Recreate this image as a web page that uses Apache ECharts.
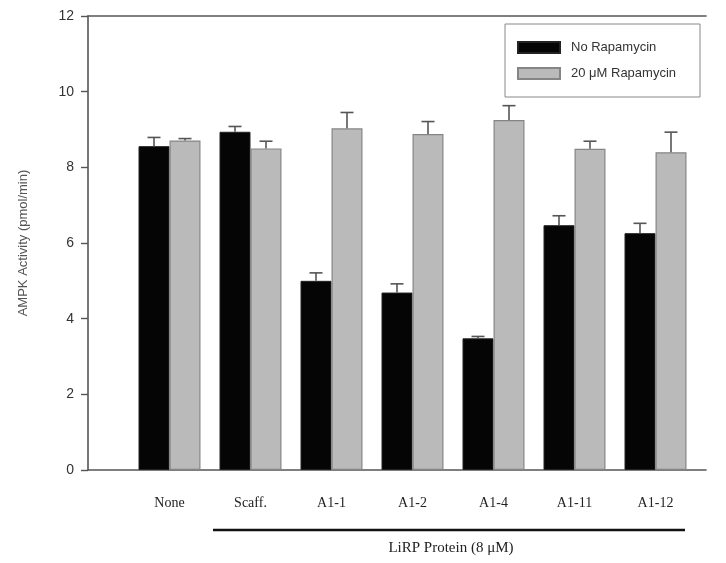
<!DOCTYPE html>
<html>
<head>
<meta charset="utf-8">
<script src="https://cdn.jsdelivr.net/npm/echarts@6/dist/echarts.min.js"></script>
<style>html,body{margin:0;padding:0;background:#fff;}#c{width:726px;height:563px;}</style>
</head>
<body>
<div id="c"></div>
<script>
const categories = ['None', 'Scaff.', 'A1-1', 'A1-2', 'A1-4', 'A1-11', 'A1-12'];
const seriesNames = ['No Rapamycin', '20 \u03bcM Rapamycin'];
const noRapa = [8.56, 8.94, 5.00, 4.69, 3.48, 6.47, 6.26];
const noRapaErr = [0.23, 0.14, 0.21, 0.23, 0.05, 0.25, 0.26];
const rapa = [8.71, 8.50, 9.03, 8.88, 9.25, 8.49, 8.40];
const rapaErr = [0.05, 0.19, 0.42, 0.33, 0.38, 0.20, 0.53];
const yMin = 0, yMax = 12, yStep = 2;
const yTitle = 'AMPK Activity (pmol/min)';
const groupLabel = 'LiRP Protein (8 \u03bcM)';

const BAR_W = 31;
const axisColor = '#555';

function errSeries(vals, errs, side) {
  return {
    type: 'custom',
    xAxisIndex: 0, yAxisIndex: 0,
    z: 5,
    silent: true,
    data: vals.map((v, i) => [i, v, errs[i]]),
    renderItem: function (params, api) {
      const i = api.value(0), v = api.value(1), e = api.value(2);
      const base = api.coord([i, v]);
      const top = api.coord([i, v + e]);
      const x = base[0] + side * BAR_W / 2;
      const cap = 6.5;
      const st = { stroke: '#555', lineWidth: 1.6 };
      return {
        type: 'group',
        children: [
          { type: 'line', shape: { x1: x, y1: base[1], x2: x, y2: top[1] }, style: st },
          { type: 'line', shape: { x1: x - cap, y1: top[1], x2: x + cap, y2: top[1] }, style: st }
        ]
      };
    }
  };
}

const chart = echarts.init(document.getElementById('c'), null, { renderer: 'canvas' });
chart.setOption({
  animation: false,
  backgroundColor: '#fff',
  grid: [
    { left: 129, right: 30, top: 16, bottom: 93 },
    { left: 88, right: 20, top: 16, bottom: 93 }
  ],
  legend: {
    data: seriesNames,
    icon: 'rect',
    orient: 'vertical',
    left: 505, top: 24,
    padding: [17, 24, 17, 12],
    itemWidth: 42, itemHeight: 11, itemGap: 13,
    borderColor: '#888', borderWidth: 1,
    textStyle: { fontFamily: 'Liberation Sans', fontSize: 13, color: '#333', padding: [0, 0, 0, 6] }
  },
  xAxis: [
    {
      type: 'category', gridIndex: 0, data: categories,
      axisLine: { show: false }, axisTick: { show: false },
      axisLabel: { fontFamily: 'Liberation Serif', fontSize: 14, color: '#222', margin: 26 }
    },
    {
      type: 'value', gridIndex: 1, position: 'bottom', min: 0, max: 1,
      axisLine: { show: true, lineStyle: { color: axisColor, width: 1.6 } },
      axisTick: { show: false }, axisLabel: { show: false }, splitLine: { show: false }
    },
    {
      type: 'value', gridIndex: 1, position: 'top', min: 0, max: 1,
      axisLine: { show: true, lineStyle: { color: axisColor, width: 1.6 } },
      axisTick: { show: false }, axisLabel: { show: false }, splitLine: { show: false }
    }
  ],
  yAxis: [
    {
      type: 'value', gridIndex: 0, min: yMin, max: yMax, interval: yStep,
      show: false
    },
    {
      type: 'value', gridIndex: 1, min: yMin, max: yMax, interval: yStep,
      name: yTitle, nameLocation: 'middle', nameGap: 58,
      nameTextStyle: { fontFamily: 'Liberation Sans', fontSize: 13, color: '#555' },
      axisLine: { show: true, lineStyle: { color: axisColor, width: 1.6 } },
      axisTick: { show: true, inside: false, length: 7, lineStyle: { color: axisColor, width: 1.4 } },
      axisLabel: { fontFamily: 'Liberation Sans', fontSize: 14, color: '#333', margin: 14 },
      splitLine: { show: false }
    }
  ],
  series: [
    {
      name: seriesNames[0], type: 'bar', xAxisIndex: 0, yAxisIndex: 0,
      data: noRapa, barWidth: BAR_W, barGap: '0%',
      itemStyle: { color: '#050505', borderColor: '#222', borderWidth: 1 }
    },
    {
      name: seriesNames[1], type: 'bar', xAxisIndex: 0, yAxisIndex: 0,
      data: rapa, barWidth: BAR_W, barGap: '0%',
      itemStyle: { color: '#bababa', borderColor: '#858585', borderWidth: 1.2 }
    },
    errSeries(noRapa, noRapaErr, -1),
    errSeries(rapa, rapaErr, 1)
  ],
  graphic: [
    { type: 'line', shape: { x1: 213, y1: 530, x2: 685, y2: 530 }, style: { stroke: '#111', lineWidth: 2.5 } },
    { type: 'text', x: 451, y: 548, style: { text: groupLabel, fontFamily: 'Liberation Serif', fontSize: 15, fill: '#222', align: 'center', verticalAlign: 'middle' } }
  ]
});
</script>
</body>
</html>
